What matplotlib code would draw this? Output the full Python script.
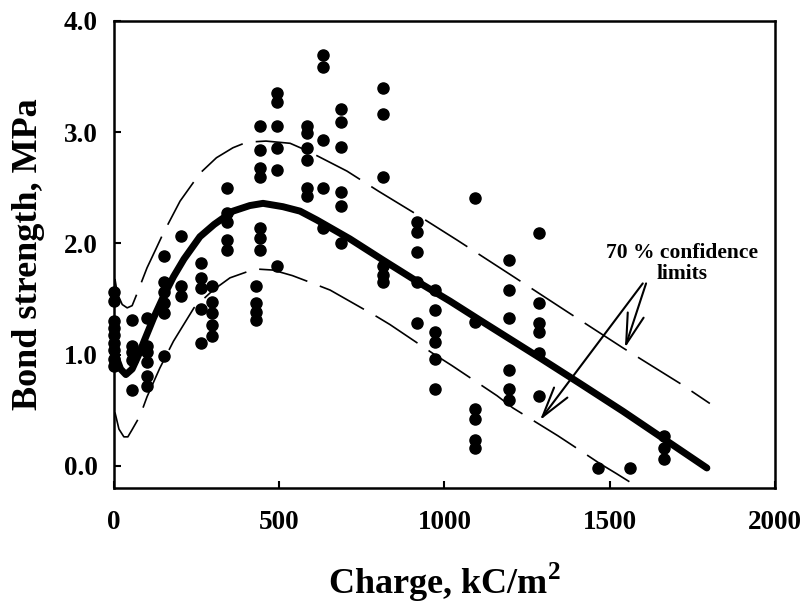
import matplotlib
matplotlib.use("Agg")
import matplotlib.pyplot as plt

plt.rcParams['font.family'] = ['Liberation Serif', 'DejaVu Serif']
plt.rcParams['font.weight'] = 'bold'
plt.rcParams['mathtext.fontset'] = 'custom'
plt.rcParams['mathtext.rm'] = 'Liberation Serif:bold'
plt.rcParams['mathtext.bf'] = 'Liberation Serif:bold'

# measured data (charge kC/m2, bond strength MPa)
charge_pts = ([0]*9 + [55]*5 + [100]*6 + [151]*6 + [203]*3 + [263]*5 + [296]*5 +
              [342]*5 + [430]*4 + [442]*7 + [493]*6 + [584]*6 + [632]*5 + [686]*6 +
              [815]*6 + [916]*5 + [971]*6 + [1092]*6 + [1195]*6 + [1286]*6 +
              [1464, 1561] + [1664]*3)
bond_pts = ([1.56, 1.48, 1.30, 1.24, 1.18, 1.10, 1.04, 0.96, 0.90] +
            [1.31, 1.08, 1.02, 0.95, 0.68] +
            [1.33, 1.08, 1.02, 0.93, 0.81, 0.72] +
            [1.89, 1.65, 1.56, 1.46, 1.37, 0.99] +
            [2.07, 1.62, 1.53] +
            [1.82, 1.69, 1.60, 1.41, 1.10] +
            [1.62, 1.47, 1.37, 1.27, 1.17] +
            [2.50, 2.27, 2.19, 2.03, 1.94] +
            [1.62, 1.46, 1.38, 1.31] +
            [3.06, 2.84, 2.68, 2.60, 2.14, 2.05, 1.94] +
            [3.35, 3.27, 3.06, 2.86, 2.66, 1.80] +
            [3.06, 2.99, 2.86, 2.75, 2.50, 2.43] +
            [3.69, 3.59, 2.93, 2.50, 2.14] +
            [3.21, 3.09, 2.87, 2.46, 2.34, 2.00] +
            [3.40, 3.16, 2.60, 1.80, 1.72, 1.65] +
            [2.19, 2.10, 1.92, 1.65, 1.28] +
            [1.58, 1.40, 1.20, 1.11, 0.96, 0.69] +
            [2.41, 1.29, 0.51, 0.42, 0.23, 0.16] +
            [1.85, 1.58, 1.33, 0.86, 0.69, 0.59] +
            [2.09, 1.46, 1.28, 1.20, 1.01, 0.63] +
            [-0.02, -0.02] +
            [0.27, 0.16, 0.06])

fit_x = [0, 10, 20, 36, 55, 75, 91, 120, 151, 180, 212, 260, 303, 360, 411, 451,
         511, 563, 614, 714, 814, 916, 1017, 1107, 1289, 1410, 1540, 1794]
fit_y = [1.08, 0.95, 0.87, 0.82, 0.87, 1.00, 1.12, 1.33, 1.53, 1.70, 1.86, 2.06,
         2.17, 2.29, 2.34, 2.36, 2.33, 2.29, 2.21, 2.04, 1.85, 1.66, 1.48, 1.31,
         0.97, 0.74, 0.49, -0.02]

upper_x = [3, 10, 25, 40, 55, 70, 100, 127, 149, 200, 260, 310, 360, 402, 460,
           533, 587, 705, 800, 905, 1038, 1204, 1374, 1540, 1713, 1803]
upper_y = [1.68, 1.55, 1.45, 1.42, 1.44, 1.55, 1.78, 1.95, 2.09, 2.38, 2.63, 2.77,
           2.86, 2.91, 2.92, 2.90, 2.83, 2.65, 2.47, 2.28, 2.03, 1.71, 1.38, 1.06,
           0.74, 0.56]

lower_x = [3, 15, 30, 42, 54, 79, 100, 139, 180, 242, 300, 351, 427, 481, 540,
           602, 654, 796, 835, 965, 1023, 1159, 1207, 1343, 1389, 1470, 1520, 1590]
lower_y = [0.48, 0.33, 0.26, 0.26, 0.32, 0.45, 0.62, 0.88, 1.12, 1.42, 1.58, 1.69,
           1.77, 1.76, 1.71, 1.64, 1.58, 1.34, 1.27, 1.01, 0.90, 0.63, 0.52, 0.27,
           0.18, 0.02, -0.07, -0.20]

x_ticks = [0, 500, 1000, 1500, 2000]
y_ticks = [0.0, 1.0, 2.0, 3.0, 4.0]

fig = plt.figure(figsize=(8.06, 6.05), dpi=100)
ax = fig.add_axes([0.1414, 0.1934, 0.8201, 0.7719])

ax.plot(upper_x, upper_y, color='black', lw=1.2, linestyle=(0, (30, 8)),
        dash_capstyle='butt')
ax.plot(lower_x, lower_y, color='black', lw=1.2, linestyle=(0, (30, 8)),
        dash_capstyle='butt')
ax.plot(charge_pts, bond_pts, 'o', color='black', markersize=8, zorder=3,
        clip_on=False)
ax.plot(fit_x, fit_y, color='black', lw=5, solid_capstyle='round',
        solid_joinstyle='round', zorder=4)

ax.set_xlim(0, 2000)
ax.set_ylim(-0.2, 4.0)
ax.set_xticks(x_ticks)
ax.set_xticklabels([str(v) for v in x_ticks])
ax.set_yticks(y_ticks)
ax.set_yticklabels([f"{v:.1f}" for v in y_ticks])
ax.tick_params(axis='both', direction='in', length=5, width=1.5, labelsize=19.5)
ax.tick_params(axis='x', pad=16)
ax.tick_params(axis='y', pad=11.5)
for s in ax.spines.values():
    s.set_linewidth(1.8)

ax.set_xlabel(r'Charge, kC/m$^{\mathbf{2}}$', fontsize=26, fontweight='bold')
ax.set_ylabel('Bond strength, MPa', fontsize=26, fontweight='bold')
ax.xaxis.set_label_coords(0.5, -0.155)
ax.yaxis.set_label_coords(-0.104, 0.5)

ax.text(1720, 1.82, '70 % confidence\nlimits', ha='center', va='center',
        fontsize=15.5, fontweight='bold', linespacing=1.05)
arrow = dict(arrowstyle='->,head_length=1.1,head_width=0.3', color='black',
             lw=1.5, mutation_scale=20, shrinkA=0, shrinkB=0)
ax.annotate('', xy=(1546, 1.06), xytext=(1610, 1.64), arrowprops=arrow)
ax.annotate('', xy=(1289, 0.41), xytext=(1600, 1.64), arrowprops=arrow)

fig.savefig('out.png', dpi=100)
